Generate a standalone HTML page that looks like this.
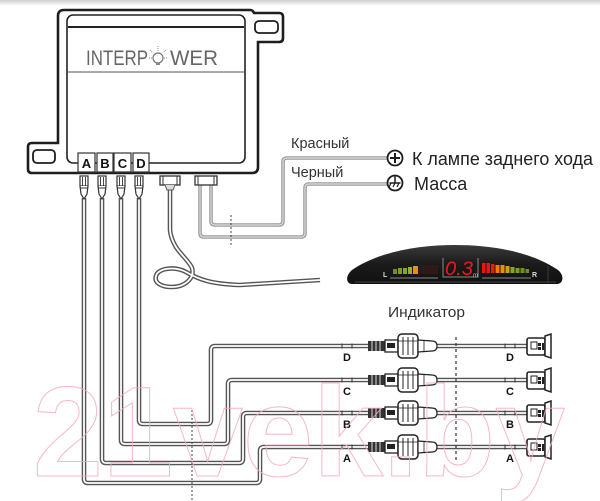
<!DOCTYPE html>
<html><head><meta charset="utf-8"><style>
html,body{margin:0;padding:0;background:#fff;}
svg{display:block;}
text{font-family:"Liberation Sans",sans-serif;}
</style></head><body>
<svg width="600" height="501" viewBox="0 0 600 501" xmlns="http://www.w3.org/2000/svg">
<defs>
<linearGradient id="tg" x1="0" y1="0" x2="0" y2="1"><stop offset="0" stop-color="#cfcfcf"/><stop offset="1" stop-color="#fff"/></linearGradient>
<linearGradient id="ind" x1="0" y1="0" x2="0" y2="1"><stop offset="0" stop-color="#3a3a3a"/><stop offset="0.5" stop-color="#1a1a1a"/><stop offset="1" stop-color="#111"/></linearGradient>
<g id="conn">
  <rect x="368" y="-5" width="17" height="10" fill="#333"/>
  <line x1="372" y1="-5" x2="372" y2="5" stroke="#ddd" stroke-width="1"/>
  <line x1="376" y1="-5" x2="376" y2="5" stroke="#ddd" stroke-width="1"/>
  <line x1="380" y1="-5" x2="380" y2="5" stroke="#ddd" stroke-width="1"/>
  <rect x="385" y="-6" width="13" height="12" fill="#fff" stroke="#222" stroke-width="1.3"/>
  <rect x="387" y="-3" width="8" height="5" fill="#222"/>
  <rect x="398" y="-12" width="20" height="24" rx="4" fill="#fff" stroke="#222" stroke-width="1.5"/>
  <line x1="403" y1="-9" x2="403" y2="9" stroke="#222" stroke-width="1"/>
  <line x1="408" y1="-9" x2="408" y2="9" stroke="#222" stroke-width="1"/>
  <line x1="413" y1="-9" x2="413" y2="9" stroke="#222" stroke-width="1"/>
  <line x1="398" y1="-5" x2="418" y2="-5" stroke="#222" stroke-width="0.8"/>
  <path d="M418,-6 L432,-5 Q437,-5 437,0 Q437,5 432,5 L418,6 Z" fill="#fff" stroke="#222" stroke-width="1.2"/>
  <line x1="424" y1="-5" x2="424" y2="5" stroke="#222" stroke-width="0.8"/>
  <!-- ticks -->
  <line x1="342" y1="-2.5" x2="342" y2="2.5" stroke="#333" stroke-width="1"/>
  <line x1="352" y1="-2.5" x2="352" y2="2.5" stroke="#333" stroke-width="1"/>
  <line x1="505" y1="-2.5" x2="505" y2="2.5" stroke="#333" stroke-width="1"/>
  <line x1="515" y1="-2.5" x2="515" y2="2.5" stroke="#333" stroke-width="1"/>
  <!-- sensor -->
  <rect x="527" y="-8" width="18" height="17" rx="2" fill="#fff" stroke="#222" stroke-width="1.6"/>
  <path d="M545,-10 L551,-12 L551,12 L545,10 Z" fill="#fff" stroke="#222" stroke-width="1.5"/>
  <rect x="531" y="-4" width="6" height="7" fill="none" stroke="#222" stroke-width="1"/>
  <rect x="538" y="-3" width="3" height="3" fill="#222"/>
  <rect x="538" y="1" width="3" height="3" fill="#222"/>
  <rect x="542" y="-3" width="2" height="7" fill="#222"/>
</g>
<g id="plug">
  <rect x="-4" y="176" width="8" height="10" fill="#fff" stroke="#333" stroke-width="1.2"/>
  <line x1="-1.5" y1="177" x2="-1.5" y2="186" stroke="#333" stroke-width="0.9"/>
  <line x1="1.5" y1="177" x2="1.5" y2="186" stroke="#333" stroke-width="0.9"/>
  <path d="M-4,186 L-3,194 L0,199 L3,194 L4,186" fill="#fff" stroke="#333" stroke-width="1.2"/>
  <line x1="-4" y1="188" x2="4" y2="188" stroke="#333" stroke-width="1"/>
</g>
</defs>

<rect x="0" y="0" width="600" height="6" fill="url(#tg)"/>

<!-- control box -->
<path d="M58,16 Q58,10 64,10 H250 Q253,10 254,13 H279 Q283,13 283,17 V38 Q283,42 279,42 H258 V167 Q258,173 252,173 H32 Q28,173 28,169 V147 Q28,143 32,143 H58 Z" fill="#fff" stroke="#1e1e1e" stroke-width="2.6"/>
<rect x="255" y="21" width="23" height="12" rx="4" fill="none" stroke="#1e1e1e" stroke-width="1.8"/>
<rect x="33" y="150" width="22" height="13" rx="4" fill="none" stroke="#1e1e1e" stroke-width="1.8"/>
<rect x="67" y="15" width="178" height="148" rx="6" fill="#fff" stroke="#222" stroke-width="1.6"/>
<line x1="68" y1="27" x2="244" y2="27" stroke="#222" stroke-width="2"/>
<line x1="68" y1="72" x2="244" y2="72" stroke="#555" stroke-width="0.9"/>
<text x="86" y="65" font-size="21" fill="#666" textLength="62" lengthAdjust="spacingAndGlyphs">INTERP</text>
<circle cx="158" cy="58" r="5" fill="none" stroke="#777" stroke-width="1.2"/>
<path d="M156,63 h4 v2 h-4z" fill="#888"/>
<g stroke="#888" stroke-width="1" stroke-dasharray="1,1">
<line x1="158" y1="46" x2="158" y2="51"/><line x1="150" y1="50" x2="153" y2="53"/><line x1="166" y1="50" x2="163" y2="53"/>
<line x1="149" y1="58" x2="152" y2="58"/><line x1="164" y1="58" x2="167" y2="58"/>
</g>
<text x="170" y="65" font-size="21" fill="#666" textLength="48" lengthAdjust="spacingAndGlyphs">WER</text>

<!-- ABCD labels -->
<g fill="#fff" stroke="#333" stroke-width="1.2">
<rect x="78" y="153" width="17" height="19"/>
<rect x="97" y="153" width="16" height="19"/>
<rect x="114" y="153" width="17" height="19"/>
<rect x="133" y="153" width="16" height="19"/>
</g>
<g font-size="13" font-weight="bold" fill="#111" text-anchor="middle">
<text x="86.5" y="168">A</text><text x="105" y="168">B</text><text x="122.5" y="168">C</text><text x="141" y="168">D</text>
</g>

<!-- sensor wires (double line) -->
<g fill="none" stroke-linejoin="round">
<g stroke="#555" stroke-width="4.6">
<path d="M84,198 V479 Q84,483 88,483 H256 Q260,483 260,479 V451 Q260,447 264,447 H368 M437,447 H527"/>
<path d="M102,198 V459 Q102,463 106,463 H239 Q243,463 243,459 V417 Q243,413 247,413 H368 M437,413 H527"/>
<path d="M121,198 V440 Q121,444 125,444 H224 Q228,444 228,440 V384 Q228,380 232,380 H368 M437,380 H527"/>
<path d="M139,198 V420 Q139,424 143,424 H207 Q211,424 211,420 V350 Q211,346 215,346 H368 M437,346 H527"/>
<path d="M170,188 V230 C172,250 188,258 192,268 C195,278 185,287 172,287 C160,287 154,282 156,276 C158,268 175,266 186,272 C198,279 210,284 240,285 L320,280"/>
</g>
<g stroke="#fff" stroke-width="1.8">
<path d="M84,198 V479 Q84,483 88,483 H256 Q260,483 260,479 V451 Q260,447 264,447 H368 M437,447 H527"/>
<path d="M102,198 V459 Q102,463 106,463 H239 Q243,463 243,459 V417 Q243,413 247,413 H368 M437,413 H527"/>
<path d="M121,198 V440 Q121,444 125,444 H224 Q228,444 228,440 V384 Q228,380 232,380 H368 M437,380 H527"/>
<path d="M139,198 V420 Q139,424 143,424 H207 Q211,424 211,420 V350 Q211,346 215,346 H368 M437,346 H527"/>
<path d="M170,188 V230 C172,250 188,258 192,268 C195,278 185,287 172,287 C160,287 154,282 156,276 C158,268 175,266 186,272 C198,279 210,284 240,285 L320,280"/>
</g>
</g>

<!-- plugs -->
<use href="#plug" transform="translate(84,0)"/>
<use href="#plug" transform="translate(102,0)"/>
<use href="#plug" transform="translate(121,0)"/>
<use href="#plug" transform="translate(139,0)"/>

<!-- middle connector -->
<rect x="160" y="176" width="20" height="9" fill="#fff" stroke="#333" stroke-width="1.3"/>
<line x1="163" y1="176" x2="163" y2="185" stroke="#333"/><line x1="177" y1="176" x2="177" y2="185" stroke="#333"/>
<path d="M165,185 L167,190 L173,190 L175,185" fill="#ddd" stroke="#555" stroke-width="1"/>

<!-- power wires -->
<g fill="none" stroke-linejoin="round">
<path d="M211,185 V221 Q211,225 215,225 H279 Q283,225 283,221 V162 Q283,158 287,158 H387" stroke="#9c9c9c" stroke-width="3.6"/>
<path d="M200,185 V233 Q200,237 204,237 H301 Q305,237 305,233 V188 Q305,184 309,184 H387" stroke="#9c9c9c" stroke-width="3.6"/>
<path d="M211,185 V221 Q211,225 215,225 H279 Q283,225 283,221 V162 Q283,158 287,158 H387" stroke="#dcdcdc" stroke-width="1.2"/>
<path d="M200,185 V233 Q200,237 204,237 H301 Q305,237 305,233 V188 Q305,184 309,184 H387" stroke="#dcdcdc" stroke-width="1.2"/>
</g>
<rect x="195" y="176" width="22" height="9" fill="#fff" stroke="#333" stroke-width="1.3"/>
<line x1="198" y1="176" x2="198" y2="185" stroke="#333"/><line x1="214" y1="176" x2="214" y2="185" stroke="#333"/>

<line x1="231" y1="215" x2="231" y2="247" stroke="#444" stroke-width="1" stroke-dasharray="2,2"/>
<line x1="192" y1="410" x2="192" y2="501" stroke="#444" stroke-width="1" stroke-dasharray="2,2"/>
<line x1="456" y1="337" x2="456" y2="460" stroke="#333" stroke-width="1.2" stroke-dasharray="3,3"/>

<!-- symbols -->
<circle cx="395" cy="158" r="7.5" fill="#fff" stroke="#1e1e1e" stroke-width="1.8"/>
<line x1="390" y1="158" x2="400" y2="158" stroke="#1e1e1e" stroke-width="2"/>
<line x1="395" y1="153" x2="395" y2="163" stroke="#1e1e1e" stroke-width="2"/>
<circle cx="395" cy="183" r="7.5" fill="#fff" stroke="#1e1e1e" stroke-width="1.8"/>
<line x1="395" y1="176" x2="395" y2="183" stroke="#1e1e1e" stroke-width="1.5"/>
<line x1="389.5" y1="183" x2="400.5" y2="183" stroke="#1e1e1e" stroke-width="1.5"/>
<g stroke="#1e1e1e" stroke-width="1.2"><line x1="391" y1="183" x2="389" y2="187"/><line x1="395" y1="183" x2="393" y2="187"/><line x1="399" y1="183" x2="397" y2="187"/></g>

<g fill="#333">
<text x="291" y="148" font-size="14.5">Красный</text>
<text x="291" y="177" font-size="14.5">Черный</text>
<text x="412" y="165" font-size="18" fill="#222" textLength="181" lengthAdjust="spacingAndGlyphs">К лампе заднего хода</text>
<text x="414" y="190" font-size="18" fill="#222">Масса</text>
<text x="388" y="317" font-size="14.5" textLength="77" lengthAdjust="spacingAndGlyphs">Индикатор</text>
</g>

<!-- indicator display -->
<path d="M352,284 C346,284 345,276 352,270 C380,251 420,245 455,245 C490,245 530,251 558,270 C565,276 563,284 557,284 Z" fill="url(#ind)"/>
<path d="M355,282 H556" stroke="#333" stroke-width="1.5"/>
<line x1="548" y1="266" x2="548" y2="283" stroke="#3a3a3a" stroke-width="1"/>
<text x="383" y="277" font-size="7" font-weight="bold" fill="#ddd">L</text>
<text x="532" y="277" font-size="7" font-weight="bold" fill="#ddd">R</text>
<g>
<rect x="393" y="269" width="4" height="5" fill="#6f8f1c"/>
<rect x="398" y="268" width="4" height="6" fill="#7d9c22"/>
<rect x="403" y="268" width="4" height="6" fill="#8aa42a"/>
<rect x="408" y="267" width="4" height="7" fill="#9aac2a"/>
<rect x="413" y="266" width="5" height="8" fill="#f08a10"/>
<rect x="419" y="265" width="19" height="9" fill="#2e1818"/>
<rect x="482" y="263" width="3.5" height="10" fill="#ee1414"/>
<rect x="486.5" y="263" width="3.5" height="10" fill="#ee1414"/>
<rect x="491" y="264" width="3.5" height="9" fill="#e81a14"/>
<rect x="495.5" y="265" width="4" height="8" fill="#f07a10"/>
<rect x="500.5" y="265" width="4" height="8" fill="#f08a10"/>
<rect x="505.5" y="266" width="4" height="7" fill="#c9a020"/>
<rect x="510.5" y="267" width="4" height="6" fill="#8aa42a"/>
<rect x="515.5" y="268" width="4" height="5" fill="#7d9c22"/>
<rect x="520.5" y="268" width="4" height="5" fill="#6f8f1c"/>
<rect x="525.5" y="269" width="3.5" height="4" fill="#6f8f1c"/>
</g>
<line x1="390" y1="278" x2="438" y2="278" stroke="#8a8a8a" stroke-width="1"/>
<line x1="482" y1="278" x2="531" y2="278" stroke="#8a8a8a" stroke-width="1"/>
<path d="M443,258 V277 H478 V258" fill="none" stroke="#8a8a8a" stroke-width="1"/>
<text x="445" y="275" font-size="19" font-style="italic" fill="#f01818" textLength="28" lengthAdjust="spacingAndGlyphs">0.3</text>
<text x="473" y="277" font-size="6" fill="#bbb">m</text>

<!-- sensor connectors -->
<use href="#conn" transform="translate(0,346)"/>
<use href="#conn" transform="translate(0,380)"/>
<use href="#conn" transform="translate(0,413)"/>
<use href="#conn" transform="translate(0,447)"/>

<g font-size="11" font-weight="bold" fill="#111" text-anchor="middle">
<text x="347" y="361">D</text><text x="510" y="361">D</text>
<text x="347" y="395">C</text><text x="510" y="395">C</text>
<text x="347" y="428">B</text><text x="510" y="428">B</text>
<text x="347" y="462">A</text><text x="510" y="462">A</text>
</g>

<!-- watermark -->
<text x="33" y="476" font-size="128" font-weight="bold" fill="none" stroke="#f7a9c4" stroke-width="1" textLength="532" lengthAdjust="spacingAndGlyphs" opacity="0.85">21vek.by</text>
</svg>
</body></html>
